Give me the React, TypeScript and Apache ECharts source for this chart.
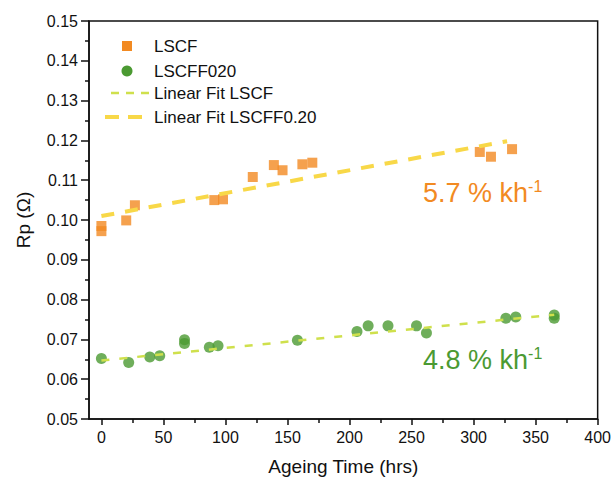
import React, { useEffect, useRef } from "react";
import * as echarts from "echarts";

const lscfX = [0, 0, 20, 27, 91, 98, 122, 139, 146, 162, 170, 305, 314, 331];
const lscfY = [0.0985, 0.0972, 0.0999, 0.1037, 0.105, 0.1052, 0.1108, 0.1138, 0.1125, 0.114, 0.1144, 0.1171, 0.1159, 0.1178];

const lscffX = [0, 22, 39, 47, 67, 67, 87, 94, 158, 206, 215, 231, 254, 262, 326, 334, 365, 365];
const lscffY = [0.0652, 0.0642, 0.0656, 0.0659, 0.0699, 0.069, 0.068, 0.0684, 0.0698, 0.072, 0.0734, 0.0734, 0.0734, 0.0716, 0.0753, 0.0756, 0.0761, 0.0753];

const fitLscfX = [0, 327];
const fitLscfY = [0.101, 0.1198];
const fitLscffX = [0, 365];
const fitLscffY = [0.0647, 0.0762];

const xMajorTicks = [0, 50, 100, 150, 200, 250, 300, 350, 400];
const xMinorTicks = [25, 75, 125, 175, 225, 275, 325, 375];

const seriesNames = ["LSCF", "LSCFF020", "Linear Fit LSCF", "Linear Fit LSCFF0.20"];

const zip = (xs: number[], ys: number[]) => xs.map((x, i) => [x, ys[i]]);

const SANS = "'Liberation Sans', Arial, sans-serif";

const ORANGE = "#F28A22";
const GREEN = "#4B9A32";
const LIGHTGREEN = "#CFE04C";
const YELLOW = "#F8D848";

export default function App() {
  const ref = useRef<HTMLDivElement>(null);
  useEffect(() => {
    if (!ref.current) return;
    const chart = echarts.init(ref.current, null, { renderer: "svg" });
    const axisCommon = {
      axisLine: { show: true, onZero: false, lineStyle: { color: "#111", width: 1.5 } },
      splitLine: { show: false },
    };
    const legendText = (name: string, y: number) => ({
      type: "text",
      x: 154,
      y,
      style: { text: name, fontFamily: SANS, fontSize: 17, fill: "#111", verticalAlign: "middle", align: "left" },
    });
    chart.setOption({
      animation: false,
      backgroundColor: "#fff",
      grid: { left: 89, right: 12, top: 21, bottom: 61, show: true, borderColor: "#111", borderWidth: 1.5, backgroundColor: "transparent" },
      xAxis: [
        {
          type: "value",
          min: -10,
          max: 400,
          ...axisCommon,
          name: "Ageing Time (hrs)",
          nameLocation: "middle",
          nameGap: 38,
          nameTextStyle: { fontFamily: SANS, fontSize: 19, color: "#111" },
          axisTick: { show: true, customValues: xMajorTicks, length: 6, lineStyle: { color: "#111", width: 1.5 } },
          axisLabel: { customValues: xMajorTicks, margin: 10, fontFamily: SANS, fontSize: 16, color: "#111", showMaxLabel: true },
        },
        {
          type: "value",
          min: -10,
          max: 400,
          position: "bottom",
          axisLine: { show: false },
          splitLine: { show: false },
          axisTick: { show: true, customValues: xMinorTicks, length: 4, lineStyle: { color: "#111", width: 1.5 } },
          axisLabel: { show: false },
        },
      ],
      yAxis: {
        type: "value",
        min: 0.05,
        max: 0.15,
        interval: 0.01,
        ...axisCommon,
        name: "Rp (\u03a9)",
        nameLocation: "middle",
        nameGap: 56,
        nameTextStyle: { fontFamily: SANS, fontSize: 19, color: "#111" },
        axisTick: { show: true, length: 8, lineStyle: { color: "#111", width: 1.5 } },
        minorTick: { show: true, splitNumber: 2, length: 4, lineStyle: { color: "#111", width: 1.5 } },
        axisLabel: { margin: 11, fontFamily: SANS, fontSize: 16, color: "#111", formatter: (v: number) => v.toFixed(2) },
      },
      series: [
        {
          name: seriesNames[0],
          type: "scatter",
          symbol: "rect",
          symbolSize: 10,
          itemStyle: { color: ORANGE },
          data: zip(lscfX, lscfY),
          z: 2,
        },
        {
          name: seriesNames[1],
          type: "scatter",
          symbol: "circle",
          symbolSize: 11,
          itemStyle: { color: GREEN },
          data: zip(lscffX, lscffY),
          z: 2,
        },
        {
          name: seriesNames[2],
          type: "line",
          showSymbol: false,
          symbol: "none",
          lineStyle: { color: LIGHTGREEN, width: 2.5, type: [8, 10] },
          data: zip(fitLscffX, fitLscffY),
          z: 3,
        },
        {
          name: seriesNames[3],
          type: "line",
          showSymbol: false,
          symbol: "none",
          lineStyle: { color: YELLOW, width: 4, type: [13, 11] },
          data: zip(fitLscfX, fitLscfY),
          z: 3,
        },
      ],
      graphic: [
        { type: "rect", shape: { x: 122, y: 41, width: 10, height: 10 }, style: { fill: ORANGE } },
        { type: "circle", shape: { cx: 127, cy: 71, r: 5.5 }, style: { fill: GREEN } },
        { type: "line", shape: { x1: 111, y1: 93, x2: 149, y2: 93 }, style: { stroke: LIGHTGREEN, lineWidth: 2.5, lineDash: [8, 7] } },
        { type: "line", shape: { x1: 105, y1: 117, x2: 149, y2: 117 }, style: { stroke: YELLOW, lineWidth: 4, lineDash: [14, 9] } },
        legendText(seriesNames[0], 46),
        legendText(seriesNames[1], 71),
        legendText(seriesNames[2], 93),
        legendText(seriesNames[3], 117),
        {
          type: "text",
          left: 423,
          top: 178,
          style: {
            text: "{a|5.7 % kh}{s|-1}",
            rich: {
              a: { fontFamily: SANS, fontSize: 27, fill: ORANGE, lineHeight: 30 },
              s: { fontFamily: SANS, fontSize: 16, fill: ORANGE, lineHeight: 30, verticalAlign: "top", padding: [0, 0, 12, 0] },
            },
          },
        },
        {
          type: "text",
          left: 423,
          top: 345,
          style: {
            text: "{a|4.8 % kh}{s|-1}",
            rich: {
              a: { fontFamily: SANS, fontSize: 27, fill: GREEN, lineHeight: 30 },
              s: { fontFamily: SANS, fontSize: 16, fill: GREEN, lineHeight: 30, verticalAlign: "top", padding: [0, 0, 12, 0] },
            },
          },
        },
      ],
    });
    return () => chart.dispose();
  }, []);
  return <div ref={ref} style={{ width: 614, height: 481, position: "absolute", left: 0, top: 0 }} />;
}
